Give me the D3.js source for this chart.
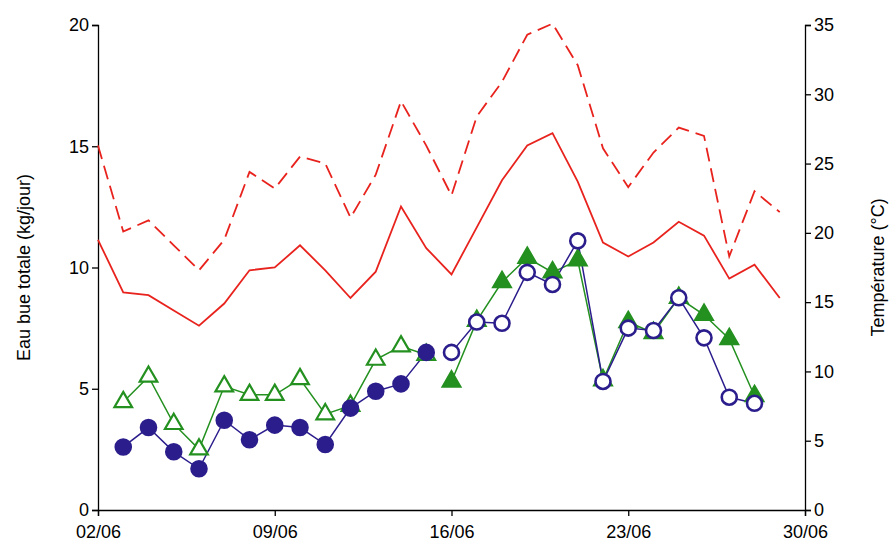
<!DOCTYPE html>
<html><head><meta charset="utf-8">
<script src="https://cdn.jsdelivr.net/npm/d3@7"></script>
<style>body{margin:0;background:#fff}text{font-family:"Liberation Sans",Arial,sans-serif}</style>
</head><body><div id="chart"></div>
<script>
// days of June
let tempDays = d3.range(2, 30);
let tempMax = [26.3,20.1,20.9,19.1,17.3,19.5,24.4,23.2,25.5,25.0,21.1,24.2,29.5,26.3,22.7,28.4,30.9,34.3,35.1,32.1,26.1,23.3,25.8,27.6,27.0,18.3,23.0,21.5];
let tempMean = [19.5,15.7,15.5,14.4,13.3,14.9,17.3,17.5,19.1,17.3,15.3,17.2,21.9,18.9,17.0,20.4,23.8,26.3,27.2,23.7,19.3,18.3,19.3,20.8,19.8,16.7,17.7,15.3];
let waterDays = d3.range(3, 29);
let waterBlue = [2.6,3.4,2.4,1.7,3.7,2.9,3.5,3.4,2.7,4.2,4.9,5.2,6.5,6.5,7.75,7.7,9.8,9.3,11.1,5.3,7.5,7.4,8.75,7.1,4.65,4.4];
let waterGreen = [4.45,5.5,3.55,2.5,5.1,4.75,4.75,5.4,3.95,4.3,6.2,6.75,6.4,5.3,7.8,9.4,10.4,9.8,10.3,5.35,7.75,7.3,8.75,8.05,7.05,4.7];
let dayTicks = [2, 9, 16, 23, 30];
let splitDay = 15; // filled/open change, lines break here

let W = 896, H = 552;
let m = {l: 98, r: 91, t: 25, b: 42};
let svg = d3.select("#chart").append("svg").attr("width", W).attr("height", H);
let x = d3.scaleLinear().domain([2, 30]).range([m.l, W - m.r]);
let yL = d3.scaleLinear().domain([0, 20]).range([H - m.b, m.t]);
let yR = d3.scaleLinear().domain([0, 35]).range([H - m.b, m.t]);

let fmt = d => String(d).padStart(2, "0") + "/06";
let ax = svg.append("g").attr("transform", "translate(0," + (H - m.b) + ")")
  .call(d3.axisBottom(x).tickValues(dayTicks).tickFormat(fmt).tickSizeOuter(0).tickSize(6));
let al = svg.append("g").attr("transform", "translate(" + m.l + ",0)")
  .call(d3.axisLeft(yL).tickValues([0,5,10,15,20]).tickSizeOuter(0).tickSize(6));
let ar = svg.append("g").attr("transform", "translate(" + (W - m.r) + ",0)")
  .call(d3.axisRight(yR).tickValues([0,5,10,15,20,25,30,35]).tickSizeOuter(0).tickSize(6));
[ax, al, ar].forEach(a => {
  a.selectAll("text").attr("font-size", 18).attr("fill", "#000");
  a.selectAll("line,path").attr("stroke", "#000").attr("stroke-width", 1.3);
});
ax.selectAll("text").attr("dy", "1.05em");

svg.append("text").attr("transform", "translate(30," + ((m.t + H - m.b) / 2) + ") rotate(-90)")
  .attr("text-anchor", "middle").attr("font-size", 18).text("Eau bue totale (kg/jour)");
svg.append("text").attr("transform", "translate(" + (W - 12) + "," + ((m.t + H - m.b) / 2) + ") rotate(-90)")
  .attr("text-anchor", "middle").attr("font-size", 18).text("Température (°C)");

let red = "#e8231e", blue = "#2b1e8c", green = "#23901f";
let lineT = d3.line().x((d, i) => x(tempDays[i])).y(d => yR(d));
svg.append("path").attr("d", lineT(tempMax)).attr("fill", "none").attr("stroke", red)
  .attr("stroke-width", 1.8).attr("stroke-dasharray", "14,7");
svg.append("path").attr("d", lineT(tempMean)).attr("fill", "none").attr("stroke", red).attr("stroke-width", 1.8);

let lineW = d3.line().defined((d, i) => true).x(d => x(d[0])).y(d => yL(d[1]));
function drawSplit(vals, color) {
  let pts = vals.map((v, i) => [waterDays[i], v]);
  [pts.filter(p => p[0] <= splitDay), pts.filter(p => p[0] > splitDay)].forEach(seg =>
    svg.append("path").attr("d", lineW(seg)).attr("fill", "none").attr("stroke", color).attr("stroke-width", 1.5));
}
drawSplit(waterGreen, green);
drawSplit(waterBlue, blue);

let tri = d3.symbol().type(d3.symbolTriangle).size(135);
svg.selectAll(".tri").data(waterGreen).enter().append("path")
  .attr("d", tri)
  .attr("transform", (d, i) => "translate(" + x(waterDays[i]) + "," + yL(d) + ")")
  .attr("fill", (d, i) => waterDays[i] <= splitDay ? "#fff" : green)
  .attr("stroke", green).attr("stroke-width", 2.2);

svg.selectAll(".dot").data(waterBlue).enter().append("circle")
  .attr("cx", (d, i) => x(waterDays[i])).attr("cy", d => yL(d)).attr("r", 7.5)
  .attr("fill", (d, i) => waterDays[i] <= splitDay ? blue : "#fff")
  .attr("stroke", blue).attr("stroke-width", 2.6);
</script></body></html>
